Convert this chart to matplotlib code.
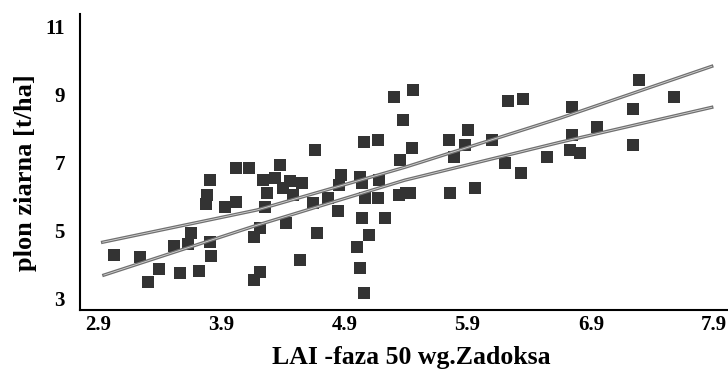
import matplotlib
matplotlib.use("Agg")
import matplotlib.pyplot as plt

# LAI (x) and yield (y)
lai = [3.03, 3.24, 3.31, 3.40, 3.57, 3.72, 3.82, 3.81, 3.66, 3.52, 3.63,
       3.81, 3.79, 3.78, 3.93, 4.02, 4.02, 4.13, 4.17, 4.22, 4.17, 4.22,
       4.38, 4.66, 4.24, 4.34, 4.46, 4.56, 4.27, 4.40, 4.48,
       4.26, 4.43, 4.68, 4.54, 4.85, 4.77, 4.65, 4.86, 4.87,
       5.00, 5.03, 5.06, 5.04, 5.10, 5.23, 5.17, 5.07, 5.34, 5.40, 5.04,
       5.18, 5.06, 5.17, 5.03, 5.30, 5.46, 5.38, 5.45, 5.35, 5.43,
       5.76, 5.96, 5.75, 5.90, 5.88, 5.79, 6.10, 6.20, 6.33, 6.23, 6.35,
       6.54, 6.73, 6.81, 6.75, 6.75, 6.95, 7.24, 7.24, 7.29, 7.57]
plon = [4.27, 4.21, 3.47, 3.86, 3.74, 3.80, 4.24, 4.65, 4.92, 4.53, 4.59,
        6.48, 6.04, 5.77, 5.68, 5.83, 6.83, 6.83, 4.80, 5.06, 3.53, 3.77,
        6.92, 7.37, 6.48, 6.54, 6.45, 6.40, 6.10, 6.25, 6.05,
        5.68, 5.21, 4.92, 4.12, 5.58, 5.95, 5.80, 6.33, 6.63,
        4.50, 3.88, 3.15, 5.36, 4.86, 5.36, 5.95, 5.95, 6.04, 6.10, 6.39,
        6.48, 7.60, 7.66, 6.57, 8.93, 9.14, 8.25, 7.42, 7.07, 6.10,
        6.10, 6.24, 7.66, 7.96, 7.51, 7.16, 7.66, 6.98, 6.69, 8.81, 8.87,
        7.16, 7.37, 7.28, 7.81, 8.63, 8.04, 8.58, 7.51, 9.43, 8.93]

# the two fitted curves
line1_x = [2.94, 4.19, 5.39, 6.65, 7.88]
line1_y = [4.65, 5.60, 6.86, 8.31, 9.84]
line2_x = [2.95, 4.19, 5.39, 6.65, 7.88]
line2_y = [3.68, 5.15, 6.48, 7.60, 8.63]

xticks = [2.9, 3.9, 4.9, 5.9, 6.9, 7.9]
yticks = [3, 5, 7, 9, 11]

plt.rcParams['font.family'] = ['Liberation Serif', 'DejaVu Serif']

fig = plt.figure(figsize=(7.28, 3.71), dpi=100)
ax = fig.add_axes([0.110, 0.164, 0.888, 0.798])

ax.scatter(lai, plon, marker='s', s=72, color='#333333', linewidths=0, zorder=2)

for lx, ly in [(line1_x, line1_y), (line2_x, line2_y)]:
    ax.plot(lx, ly, color='#707070', lw=2.4, zorder=3)
    ax.plot(lx, ly, color='white', lw=0.6, alpha=0.7, zorder=4)

ax.set_xlim(2.757, 8.0)
ax.set_ylim(2.646, 11.38)
ax.set_xticks(xticks)
ax.set_xticklabels([str(v) for v in xticks])
ax.set_yticks(yticks)
ax.tick_params(axis='both', length=0, labelsize=15)
ax.tick_params(axis='x', pad=3.5)
ax.tick_params(axis='y', pad=11)
for lab in ax.get_xticklabels() + ax.get_yticklabels():
    lab.set_fontweight('bold')

ax.spines['top'].set_visible(False)
ax.spines['right'].set_visible(False)
ax.spines['left'].set_linewidth(1.5)
ax.spines['bottom'].set_linewidth(1.5)

ax.set_xlabel('LAI -faza 50 wg.Zadoksa', fontsize=18.5, fontweight='bold')
ax.xaxis.set_label_coords(0.513, -0.12)
ax.set_ylabel('plon ziarna [t/ha]', fontsize=19, fontweight='bold')
ax.yaxis.set_label_coords(-0.0665, 0.466)

fig.savefig('out.png', dpi=100)
